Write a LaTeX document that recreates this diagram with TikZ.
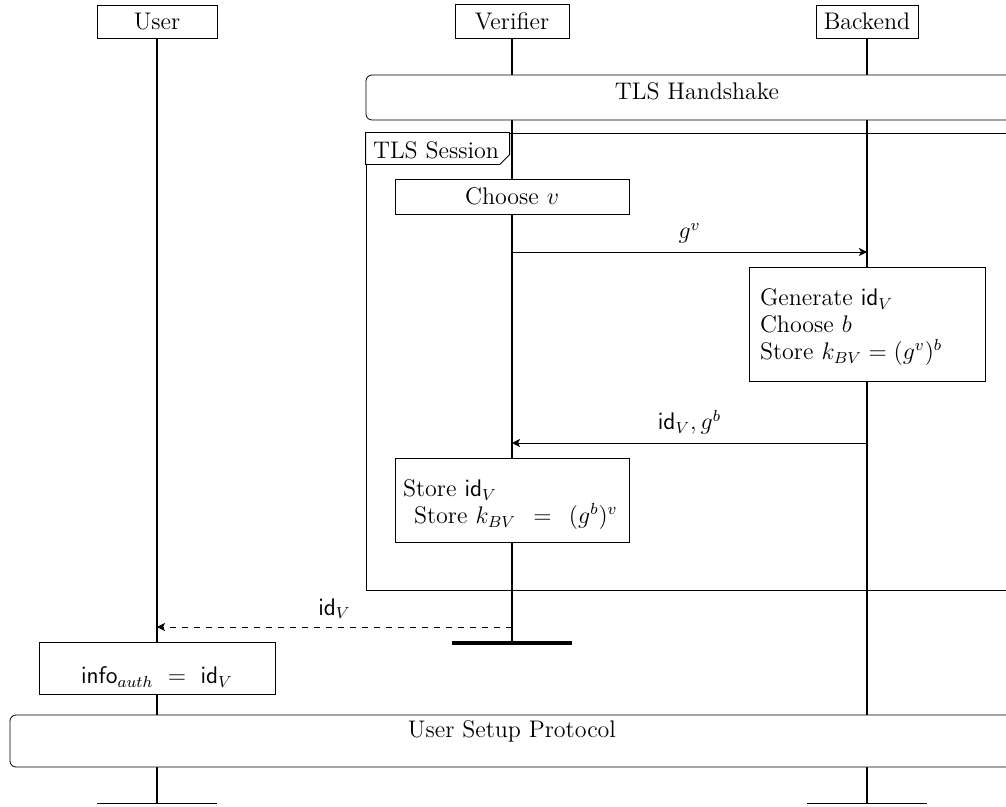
\documentclass[tikz,border=0pt,12pt]{standalone}
\usetikzlibrary{arrows.meta,positioning,calc}
\begin{document}
\begin{tikzpicture}[x=0.5pt,y=-0.5pt,
  inst/.style={draw, rectangle, fill=white, minimum height=16.5pt, inner xsep=2pt, font=\normalsize},
  act/.style={draw, rectangle, fill=white, inner xsep=5.5pt, inner ysep=0pt},
  fragbox/.style={draw, rectangle, rounded corners=3pt, fill=white, minimum width=331pt},
  life/.style={line width=1pt},
  msg/.style={-{Stealth[length=4pt,width=4pt,inset=1pt]}},
  lbl/.style={font=\normalsize},
]
\useasboundingbox (0,0) rectangle (1006,807);
\clip (0,0) rectangle (1006,807);
% instances
\node[inst, minimum width=60pt] (user) at (157,21.5) {User};
\node[inst, minimum width=57pt] (verifier) at (512,21.5) {Verifier};
\node[inst, minimum width=51pt] (backend) at (867,21.5) {Backend};
\coordinate (userEnd) at (157,803);
\coordinate (verEnd) at (512,643);
\coordinate (backEnd) at (867,803);
% lifelines
\draw[life] (user.south) -- (userEnd);
\draw[life] (verifier.south) -- (verEnd);
\draw[life] (backend.south) -- (backEnd);
\draw[line width=0.5pt] ($(userEnd)+(-60,0)$) -- ($(userEnd)+(60,0)$);
\draw[line width=0.5pt] ($(backEnd)+(-60,0)$) -- ($(backEnd)+(60,0)$);
\draw[line width=1.6pt] ($(verEnd)+(-60,0)$) -- ($(verEnd)+(60,0)$);
% TLS handshake
\node[fragbox, minimum height=22.5pt,
      label={[lbl, yshift=3.25pt]center:TLS Handshake}] (hs) at (697,97.5) {};
% TLS session frame
\node[draw, rectangle, minimum width=332pt, minimum height=228.5pt] (sess) at (698,361.5) {};
\draw[fill=white] (sess.north west) -- ++(144,0) -- ++(0,22) -- ++(-10,10) -- ++(-134,0) -- cycle;
\node[lbl] (sessTag) at (436,150) {TLS Session};
% verifier chooses v
\node[act, minimum width=117pt, minimum height=17.5pt] (chooseV) at (512,196.5) {Choose $v$};
\coordinate (m1v) at (512,252);
\coordinate (m1b) at (867,252);
\draw[msg] (m1v) -- (m1b) node[midway, above, lbl] {$g^v$};
% backend computes
\node[act, text width=107pt, minimum height=57pt, align=left] (backCalc) at (867,324)
  {\rule{0pt}{11.5pt}Generate $\mathsf{id}_V$\\[-1pt] Choose $b$\\[-1pt] Store $k_{BV} = (g^v)^b$};
\coordinate (m2b) at (867,443);
\coordinate (m2v) at (512,443);
\draw[msg] (m2b) -- (m2v) node[midway, above, lbl] {$\mathsf{id}_V, g^b$};
% verifier stores
\node[act, text width=109pt, minimum height=42pt, inner xsep=4pt, align=left] (verStore) at (512,500)
  {\rule{0pt}{13.2pt}Store $\mathsf{id}_V$\\[-1pt] \hspace*{5.5pt}Store $k_{BV}\;\,=\;\,(g^b)^v$};
% id to user
\coordinate (m3v) at (512,627);
\coordinate (m3u) at (157,627);
\draw[msg, dashed] (m3v) -- (m3u) node[midway, above, lbl] {$\mathsf{id}_V$};
% user stores
\node[act, minimum width=118pt, minimum height=26pt,
      label={[lbl, yshift=-4.5pt]center:$\mathsf{info}_{auth}\ =\ \mathsf{id}_V$}] (userStore) at (157,668) {};
% user setup
\node[fragbox, minimum width=502pt, minimum height=26pt,
      label={[lbl, yshift=5pt]center:User Setup Protocol}] (setup) at (512,741) {};
\end{tikzpicture}
\end{document}
